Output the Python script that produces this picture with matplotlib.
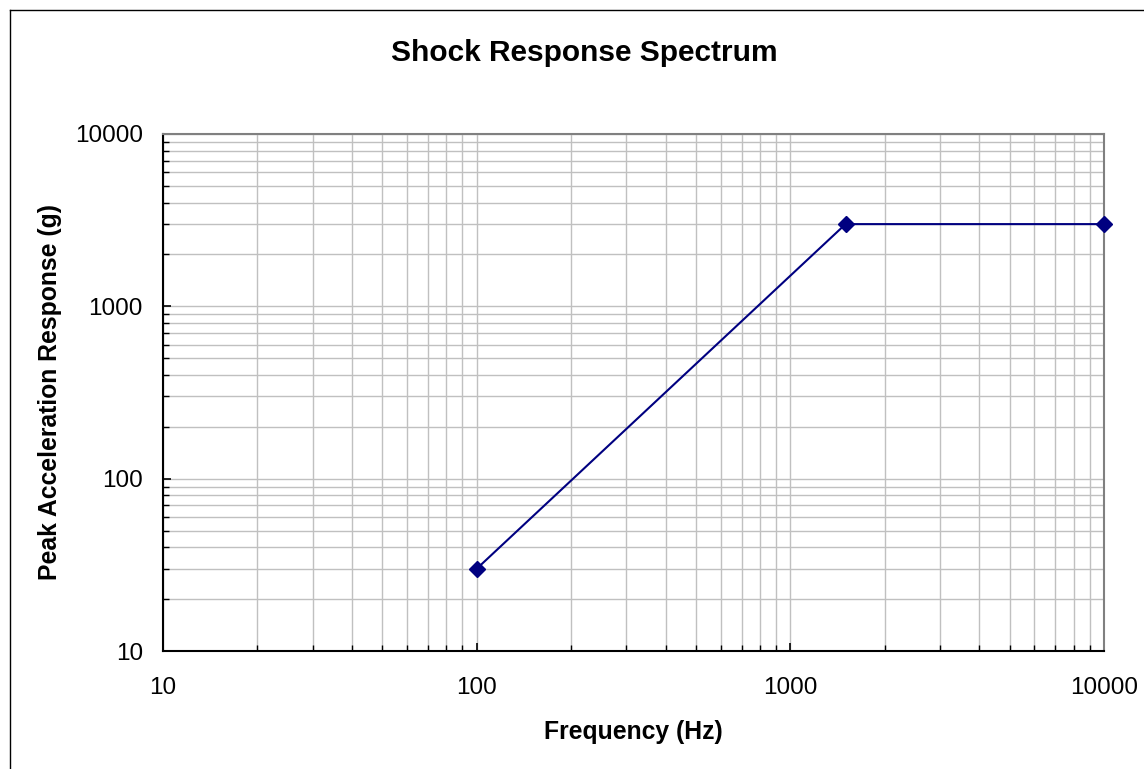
import matplotlib
matplotlib.use("Agg")
import matplotlib.pyplot as plt
from matplotlib.ticker import LogLocator, FixedLocator, NullFormatter
from matplotlib.lines import Line2D

freq = [100, 1500, 10000]
accel = [30, 3000, 3000]
x_ticks = [10, 100, 1000, 10000]
y_ticks = [10, 100, 1000, 10000]
tick_labels = ["10", "100", "1000", "10000"]

plt.rcParams['font.family'] = ['Liberation Sans', 'DejaVu Sans']

W, H = 1144, 769
fig = plt.figure(figsize=(W / 100, H / 100), dpi=100)
# outer frame: only left and top edges visible
fig.lines.append(Line2D([9.5 / W, 9.5 / W], [0, 1 - 9.5 / H], transform=fig.transFigure,
                        color='black', linewidth=1.0))
fig.lines.append(Line2D([9.5 / W, 1], [1 - 9.5 / H, 1 - 9.5 / H], transform=fig.transFigure,
                        color='black', linewidth=1.0))

ax = fig.add_axes([163 / W, (H - 651) / H, (1104 - 163) / W, (651 - 134) / H])

ax.set_xscale('log')
ax.set_yscale('log')
ax.set_xlim(10, 10000)
ax.set_ylim(10, 10000)

ax.xaxis.set_major_locator(FixedLocator(x_ticks))
ax.yaxis.set_major_locator(FixedLocator(y_ticks))
ax.set_xticklabels(tick_labels)
ax.set_yticklabels(tick_labels)
ax.xaxis.set_minor_locator(LogLocator(base=10, subs=range(2, 10)))
ax.yaxis.set_minor_locator(LogLocator(base=10, subs=range(2, 10)))
ax.xaxis.set_minor_formatter(NullFormatter())
ax.yaxis.set_minor_formatter(NullFormatter())

ax.grid(True, which='both', color='#c0c0c0', linewidth=1.0)
ax.set_axisbelow(True)

ax.tick_params(which='major', direction='in', length=6, width=1.2, labelsize=17.5, color='black')
ax.tick_params(which='minor', direction='in', length=4, width=1.0, color='black')
ax.tick_params(axis='x', which='major', pad=18.5)
ax.tick_params(axis='y', which='major', pad=14.5)

for s in ['left', 'bottom']:
    ax.spines[s].set_color('black')
    ax.spines[s].set_linewidth(1.5)
for s in ['top', 'right']:
    ax.spines[s].set_color('#808080')
    ax.spines[s].set_linewidth(1.5)

ax.plot(freq, accel, color='#000080', linewidth=1.5, marker='D', markersize=8.5,
        markerfacecolor='#000080', markeredgecolor='#000080', zorder=5, clip_on=False)

ax.set_xlabel('Frequency (Hz)', fontsize=17.8, fontweight='bold', labelpad=15)
ax.set_ylabel('Peak Acceleration Response (g)', fontsize=17.8, fontweight='bold', labelpad=9.5)
fig.text(584 / W, 1 - 53 / H, 'Shock Response Spectrum', ha='center', va='center',
         fontsize=21.5, fontweight='bold')

fig.savefig('out.png', dpi=100)
